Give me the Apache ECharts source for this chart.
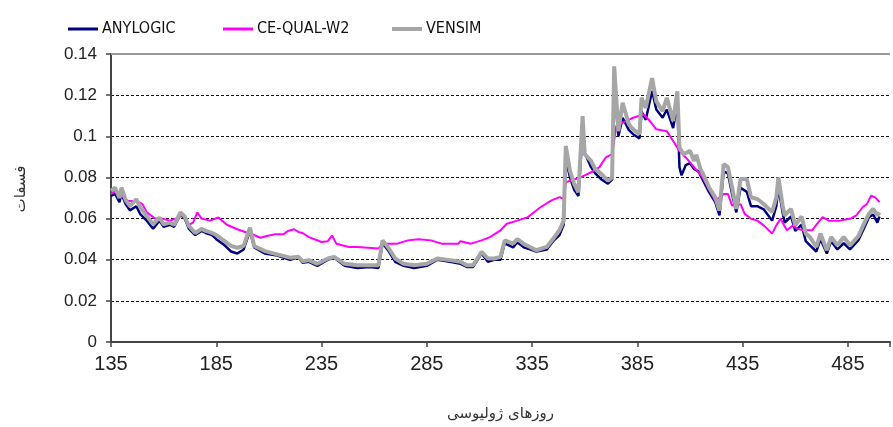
<!DOCTYPE html>
<html>
<head>
<meta charset="utf-8">
<script src="https://cdn.jsdelivr.net/npm/echarts@6/dist/echarts.min.js"></script>
<style>
html,body{margin:0;padding:0;background:#fff;}
#c{width:893px;height:427px;}
</style>
</head>
<body>
<div id="c"></div>
<script>
// ---- data (Julian day, phosphate) ----
const seriesNames = ['ANYLOGIC', 'CE-QUAL-W2', 'VENSIM'];
const xTicks = [135, 185, 235, 285, 335, 385, 435, 485];
const yTicks = [0, 0.02, 0.04, 0.06, 0.08, 0.1, 0.12, 0.14];

const anylogicDays = [135,137,139,140,142,144,147,149,152,155,158,160,163,165,168,170,172,175,178,180,183,185,189,192,195,198,201,203,208,214,220,224,226,229,233,238,241,246,252,258,262,264,267,270,274,279,285,290,296,301,304,307,311,314,317,320,322,326,328,331,334,337,342,345,348,350,351,353,355,357,359,360,363,365,368,371,373,374,376,378,381,383,386,387,389,392,394,397,399,402,404,405,406,408,410,412,414,417,419,422,424,426,428,430,432,434,437,439,442,445,449,451,452,454,455,458,460,463,465,467,470,472,475,477,480,483,486,490,493,495,497,499,500];
const anylogicVals = [0.071,0.072,0.068,0.072,0.067,0.064,0.066,0.062,0.059,0.055,0.059,0.056,0.057,0.056,0.062,0.060,0.055,0.052,0.054,0.053,0.052,0.050,0.047,0.044,0.043,0.045,0.054,0.046,0.043,0.042,0.040,0.041,0.0385,0.039,0.037,0.040,0.041,0.037,0.036,0.0365,0.036,0.048,0.044,0.039,0.037,0.036,0.037,0.040,0.039,0.038,0.0365,0.0365,0.043,0.039,0.040,0.040,0.048,0.046,0.0485,0.046,0.045,0.044,0.045,0.049,0.052,0.057,0.089,0.080,0.074,0.071,0.102,0.092,0.085,0.082,0.079,0.077,0.079,0.125,0.100,0.109,0.103,0.101,0.099,0.112,0.108,0.122,0.113,0.109,0.113,0.104,0.116,0.085,0.081,0.086,0.087,0.084,0.083,0.077,0.073,0.068,0.0615,0.083,0.082,0.072,0.063,0.075,0.073,0.066,0.066,0.0645,0.059,0.066,0.075,0.063,0.058,0.061,0.054,0.057,0.049,0.047,0.044,0.050,0.043,0.049,0.045,0.048,0.045,0.0495,0.056,0.0606,0.062,0.058,0.061];

const cequalDays = [135,137,140,143,147,150,152,156,159,163,166,169,172,174,176,178,182,186,190,195,200,202,206,209,213,217,219,222,224,226,229,235,238,240,242,248,252,262,264,271,276,281,287,292,300,301,306,311,315,320,323,328,333,337,339,344,348,350,351,353,358,364,367,370,373,375,378,383,388,391,394,399,402,405,408,412,416,419,422,426,428,430,434,436,439,442,445,449,451,453,456,459,461,464,468,471,473,476,481,486,489,492,494,496,498,500];
const cequalVals = [0.0719,0.0735,0.071,0.0686,0.0686,0.067,0.063,0.060,0.060,0.059,0.060,0.062,0.057,0.058,0.063,0.060,0.059,0.0605,0.057,0.0548,0.053,0.0524,0.0507,0.0515,0.0524,0.0524,0.054,0.0548,0.0535,0.053,0.051,0.0486,0.049,0.0518,0.0478,0.0462,0.0462,0.0454,0.0478,0.0478,0.0494,0.050,0.0494,0.0478,0.0478,0.049,0.0478,0.0494,0.051,0.0543,0.0575,0.059,0.0607,0.0639,0.0655,0.0687,0.0704,0.0695,0.0776,0.0784,0.080,0.083,0.085,0.0897,0.0913,0.105,0.1066,0.109,0.1106,0.1074,0.1034,0.1025,0.0977,0.0929,0.0897,0.0849,0.080,0.0744,0.0687,0.0719,0.072,0.0663,0.067,0.0623,0.0599,0.059,0.0567,0.0527,0.0567,0.0599,0.0543,0.0567,0.055,0.0543,0.0543,0.0583,0.0607,0.059,0.059,0.0599,0.0615,0.0655,0.067,0.0711,0.0703,0.068];

const vensimDays = [135,137,139,140,142,144,147,149,152,155,158,160,163,165,168,170,172,175,178,180,183,185,189,192,195,198,201,203,208,214,220,224,226,229,233,238,241,246,252,258,262,264,267,270,274,279,285,290,296,301,304,307,311,314,317,320,322,326,328,331,334,337,342,345,348,350,351,353,355,357,359,360,363,365,368,371,373,374,376,378,381,383,386,387,389,392,394,397,399,402,404,405,407,410,412,413,415,417,419,422,424,426,428,430,432,434,437,439,442,445,449,451,452,454,455,458,460,463,465,467,470,472,475,477,480,483,486,490,493,495,497,499,500];
const vensimVals = [0.0735,0.075,0.070,0.075,0.069,0.066,0.0694,0.0654,0.0613,0.0572,0.0605,0.0572,0.058,0.057,0.063,0.061,0.0564,0.053,0.055,0.054,0.053,0.052,0.049,0.0467,0.0458,0.0467,0.0556,0.0467,0.0442,0.0426,0.041,0.0414,0.0393,0.0398,0.038,0.0406,0.0414,0.038,0.0373,0.0373,0.0373,0.0494,0.0454,0.0406,0.038,0.0373,0.038,0.0406,0.0398,0.039,0.0373,0.0373,0.0438,0.0406,0.0406,0.0414,0.0494,0.0478,0.050,0.0478,0.0462,0.0446,0.0462,0.0502,0.0543,0.059,0.0953,0.0832,0.0768,0.0728,0.1098,0.0913,0.088,0.084,0.0816,0.0784,0.080,0.134,0.1025,0.1163,0.1058,0.1034,0.101,0.1187,0.1138,0.1283,0.117,0.1122,0.1187,0.1074,0.1219,0.0945,0.0913,0.0929,0.088,0.091,0.084,0.080,0.0752,0.0703,0.0639,0.0865,0.085,0.0752,0.0647,0.0792,0.0792,0.0703,0.0695,0.0671,0.0631,0.0703,0.080,0.0663,0.0615,0.0647,0.0567,0.061,0.0527,0.051,0.0462,0.0527,0.0446,0.051,0.047,0.051,0.047,0.0515,0.0583,0.0623,0.0647,0.0615,0.063];

function pairs(d, v) { return d.map((x, i) => [x, v[i]]); }

const chart = echarts.init(document.getElementById('c'));
const legendFont = "'Liberation Sans Narrow','DejaVu Sans Condensed','Liberation Sans',sans-serif";
const colors = ['#000080', '#FF00FF', '#A6A6A6'];
const legendLeft = [63, 218, 387];

chart.setOption({
  animation: false,
  backgroundColor: '#fff',
  legend: seriesNames.map((n, i) => ({
    data: [{ name: n, icon: 'rect' }],
    left: legendLeft[i],
    top: 16,
    itemWidth: 30,
    itemHeight: i === 2 ? 4 : 3,
    itemGap: 0,
    textStyle: { fontFamily: legendFont, fontSize: 16, color: '#111', padding: [0, 0, 0, -1] }
  })),
  grid: { left: 111, right: 0, top: 54, bottom: 83, containLabel: false },
  xAxis: {
    type: 'value',
    min: 135, max: 505, interval: 50,
    name: 'روزهای ژولیوسی',
    nameLocation: 'middle',
    nameGap: 65,
    nameTextStyle: { fontFamily: "'DejaVu Sans','Noto Sans',sans-serif", fontSize: 15, color: '#333' },
    axisLine: { show: true, lineStyle: { color: '#444', width: 2 } },
    axisTick: { show: true, length: 5, lineStyle: { color: '#444', width: 1.5 } },
    axisLabel: {
      margin: 12, fontSize: 20, color: '#222', fontFamily: "'Liberation Sans',Arial,sans-serif",
      formatter: v => xTicks.includes(v) ? String(v) : ''
    },
    splitLine: { show: false }
  },
  yAxis: {
    type: 'value',
    min: 0, max: 0.14, interval: 0.02,
    name: 'فسفات',
    nameLocation: 'middle',
    nameRotate: 90,
    nameGap: 82,
    nameTextStyle: { fontFamily: "'DejaVu Sans','Noto Sans',sans-serif", fontSize: 15, color: '#333', padding: [0, 0, 0, 18] },
    axisLine: { show: true, lineStyle: { color: '#444', width: 2 } },
    axisTick: { show: true, length: 5, lineStyle: { color: '#444', width: 1.5 } },
    axisLabel: {
      margin: 14, fontSize: 17, color: '#222', fontFamily: "'Liberation Sans',Arial,sans-serif",
      formatter: v => { const t = yTicks.find(k => Math.abs(k - v) < 1e-9); return t === undefined ? '' : String(t); }
    },
    splitLine: { show: true, lineStyle: { color: '#111', width: 1, type: [3, 2] } }
  },
  series: [
    {
      name: seriesNames[0], type: 'line', data: pairs(anylogicDays, anylogicVals),
      showSymbol: false, symbol: 'none', color: colors[0],
      lineStyle: { width: 2.5, color: colors[0] }, z: 2,
      markLine: {
        silent: true, symbol: 'none', label: { show: false },
        lineStyle: { type: 'solid', color: '#999', width: 2 },
        data: [{ yAxis: 0.14 }]
      }
    },
    {
      name: seriesNames[1], type: 'line', data: pairs(cequalDays, cequalVals),
      showSymbol: false, symbol: 'none', color: colors[1],
      lineStyle: { width: 2, color: colors[1] }, z: 3
    },
    {
      name: seriesNames[2], type: 'line', data: pairs(vensimDays, vensimVals),
      showSymbol: false, symbol: 'none', color: colors[2],
      lineStyle: { width: 4, color: colors[2] }, z: 4
    }
  ]
});
</script>
</body>
</html>
